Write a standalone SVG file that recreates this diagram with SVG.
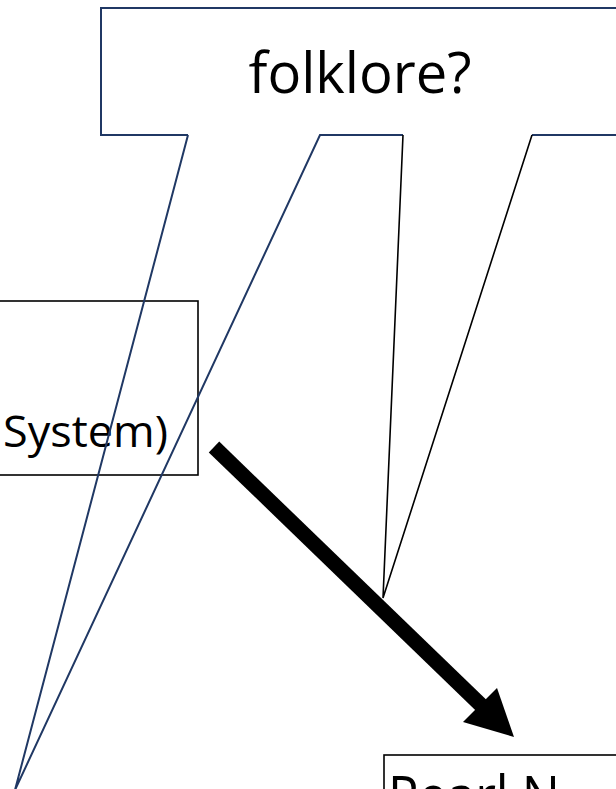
<svg xmlns="http://www.w3.org/2000/svg" width="616" height="789" viewBox="0 0 616 789">
  <style>
    .callout { fill: none; stroke: #203864; stroke-width: 2; stroke-linejoin: miter; }
    .pointer { fill: none; stroke: #000; stroke-width: 1.6; }
    .box { fill: #fff; stroke: #000; stroke-width: 1.6; }
    .label { font-family: "Open Sans", "Noto Sans", "Liberation Sans", sans-serif; fill: #000; }
  </style>
  <rect width="616" height="789" fill="#fff"/>

  <!-- left box -->
  <g id="system-box">
    <rect class="box" x="-10" y="301" width="208" height="174"/>
    <text class="label" x="168" y="447" font-size="43" text-anchor="end" textLength="165" lengthAdjust="spacingAndGlyphs">System)</text>
  </g>

  <!-- bottom right box -->
  <g id="pearl-box">
    <rect class="box" x="384" y="755" width="260" height="80"/>
    <text class="label" x="388" y="815" font-size="54" textLength="172" lengthAdjust="spacingAndGlyphs">Pearl N</text>
  </g>

  <!-- callout with its two pointers -->
  <g id="folklore-callout">
    <path class="callout" d="M188,135 H101 V8 H622"/>
    <path class="callout" d="M622,135 H532"/>
    <path class="callout" d="M188,135 L15,790 L320,135 H403"/>
    <path class="pointer" d="M403,135 L383,598 L532,135"/>
    <text class="label" x="360" y="93" font-size="56" text-anchor="middle" textLength="223" lengthAdjust="spacingAndGlyphs">folklore?</text>
  </g>

  <!-- connectors -->
  <g id="connectors">
    <line x1="214" y1="447" x2="484" y2="708" stroke="#000" stroke-width="15"/>
    <polygon points="514,737 463,722 497,688" fill="#000"/>
  </g>
</svg>
